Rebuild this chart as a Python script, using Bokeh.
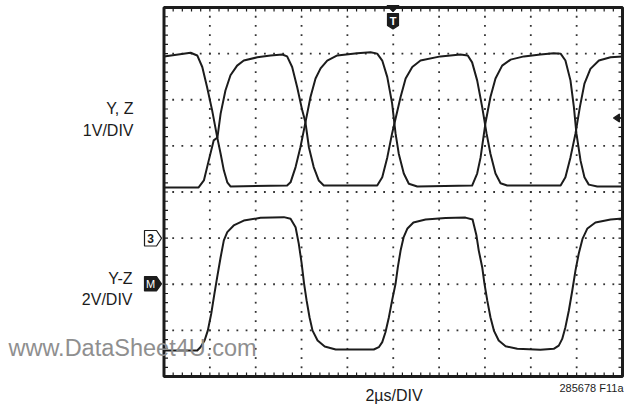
import numpy as np
from bokeh.plotting import figure
from bokeh.models import Range1d, Label
from bokeh.embed import file_html
from bokeh.resources import INLINE

# ---- captured waveforms (time in µs, level in volts) ----
# Channel Y, 1 V/div
time_y_us = [0.0, 1.16, 1.45, 1.67, 1.88, 2.10, 2.32, 2.47, 2.61, 2.76, 2.90,
             5.37, 5.52, 5.74, 5.95, 6.17, 6.39, 6.61, 6.83, 7.12, 7.56, 8.43,
             9.01, 9.30, 9.52, 9.74, 9.95, 10.10, 10.24, 10.46, 10.68, 11.05,
             13.44, 13.66, 13.81, 14.02, 14.24, 14.46, 14.75, 15.12, 15.70,
             16.42, 17.00, 17.30, 17.51, 17.73, 17.88, 17.99, 18.17, 18.34,
             18.53, 18.90, 20.0]
volts_y = [2.94, 3.02, 2.96, 2.71, 2.27, 1.77, 1.19, 0.83, 0.47, 0.21, 0.12,
           0.14, 0.21, 0.54, 0.97, 1.51, 2.06, 2.46, 2.68, 2.85, 2.96, 3.01,
           3.03, 3.00, 2.85, 2.49, 1.92, 1.27, 0.83, 0.40, 0.18, 0.12,
           0.14, 0.40, 0.75, 1.49, 2.06, 2.46, 2.74, 2.87, 2.94,
           2.98, 3.01, 3.00, 2.85, 2.42, 1.84, 1.27, 0.68, 0.32,
           0.16, 0.12, 0.12]

# Channel Z, 1 V/div
time_z_us = [0.0, 1.51, 1.74, 1.95, 2.17, 2.33, 2.47, 2.68, 2.90, 3.19, 3.48,
             4.07, 4.65, 5.16, 5.37, 5.59, 5.81, 6.03, 6.17, 6.32, 6.53, 6.75,
             6.97, 9.30, 9.52, 9.74, 9.95, 10.32, 10.54, 10.83, 11.19, 12.06,
             12.93, 13.25, 13.44, 13.66, 13.88, 14.07, 14.24, 14.46, 14.68,
             14.97, 17.30, 17.51, 17.73, 17.95, 18.14, 18.34, 18.60, 18.97,
             19.48, 20.0]
volts_z = [0.10, 0.10, 0.25, 0.68, 1.12, 1.18, 1.70, 2.20, 2.53, 2.74, 2.85,
           2.92, 2.96, 2.98, 2.94, 2.71, 2.27, 1.77, 1.51, 0.97, 0.54, 0.25,
           0.14, 0.14, 0.32, 0.75, 1.27, 2.06, 2.46, 2.71, 2.85, 2.94,
           2.98, 2.96, 2.81, 2.42, 1.84, 1.27, 0.83, 0.40, 0.19,
           0.14, 0.14, 0.32, 0.75, 1.27, 1.84, 2.35, 2.67, 2.85,
           2.92, 2.94]

# Math trace Y-Z, 2 V/div
time_diff_us = [0.0, 1.45, 1.59, 1.77, 1.91, 2.06, 2.20, 2.32, 2.47, 2.61, 2.76,
                3.04, 3.48, 4.21, 5.23, 5.52, 5.74, 5.88, 6.00, 6.11, 6.22,
                6.35, 6.48, 6.70, 7.01, 7.49, 9.15, 9.37, 9.52, 9.66, 9.81,
                9.95, 10.10, 10.20, 10.32, 10.45, 10.62, 10.88, 11.41, 12.28,
                13.15, 13.46, 13.63, 13.73, 13.88, 13.98, 14.10, 14.24, 14.39,
                14.60, 14.90, 15.41, 16.42, 17.00, 17.22, 17.37, 17.51, 17.66,
                17.81, 17.95, 18.09, 18.26, 18.47, 18.82, 19.48, 20.0]
volts_diff = [-2.87, -2.87, -2.73, -2.44, -2.01, -1.28, -0.41, 0.31, 1.17, 1.90,
              2.26, 2.55, 2.76, 2.88, 2.91, 2.84, 2.47, 1.75, 0.94, 0.03, -0.70,
              -1.44, -2.01, -2.44, -2.70, -2.83, -2.83, -2.73, -2.51, -2.08,
              -1.43, -0.70, 0.02, 0.74, 1.46, 2.03, 2.42, 2.68, 2.81, 2.87,
              2.89, 2.81, 2.11, 1.46, 0.74, 0.02, -0.70, -1.43, -2.01, -2.44,
              -2.69, -2.80, -2.84, -2.80, -2.66, -2.37, -1.86, -1.14, -0.27,
              0.60, 1.32, 1.98, 2.42, 2.68, 2.81, 2.85]

# ---- scope settings ----
US_PER_DIV = 2.0
YZ_VOLTS_PER_DIV = 1.0
DIFF_VOLTS_PER_DIV = 2.0
YZ_ZERO_DIV = 4.0      # screen division holding 0 V for Y and Z
DIFF_ZERO_DIV = 2.0    # screen division holding 0 V for Y-Z (M marker)
N_XDIV, N_YDIV = 10, 8

# ---- canvas geometry (pixels) ----
W, H = 624, 411
GX0, GX1 = 163.5, 622.0
GY_BOT, GY_TOP = 376.0, 7.0
PX_US = (GX1 - GX0) / (N_XDIV * US_PER_DIV)
PX_DIV = (GY_BOT - GY_TOP) / N_YDIV


def sx(px):
    return (px - GX0) / PX_US


def sy(py):
    return (GY_BOT - py) / PX_DIV


T_END = N_XDIV * US_PER_DIV
INK = "#1c1c1c"
FONT = "Liberation Sans"

p = figure(width=W, height=H, x_range=Range1d(sx(0), sx(W)),
           y_range=Range1d(sy(H), sy(0)), x_axis_type=None, y_axis_type=None,
           toolbar_location=None, output_backend="svg", min_border=0,
           outline_line_color=None, background_fill_color="white",
           border_fill_color="white")

# graticule: dotted division lines
minor_t = np.arange(1, N_XDIV * 5) * (US_PER_DIV / 5)
minor_d = np.arange(1, N_YDIV * 5) * 0.2
dot_x, dot_y = [], []
for k in range(1, N_XDIV):
    dot_x += [k * US_PER_DIV] * len(minor_d)
    dot_y += list(minor_d)
for k in range(1, N_YDIV):
    dot_x += list(minor_t)
    dot_y += [k] * len(minor_t)
p.scatter(dot_x, dot_y, marker="square", size=1.8, fill_color="#333333",
          line_color=None)

# tick marks along the inside of the graticule border
tl_x = 4 / PX_US
tl_y = 4 / PX_DIV
p.segment(x0=minor_t, y0=[N_YDIV] * len(minor_t), x1=minor_t,
          y1=[N_YDIV - tl_y] * len(minor_t), line_color=INK, line_width=1.2)
p.segment(x0=minor_t, y0=[0] * len(minor_t), x1=minor_t,
          y1=[tl_y] * len(minor_t), line_color=INK, line_width=1.2)
p.segment(x0=[0] * len(minor_d), y0=minor_d, x1=[tl_x] * len(minor_d),
          y1=minor_d, line_color=INK, line_width=1.2)
p.segment(x0=[T_END] * len(minor_d), y0=minor_d,
          x1=[T_END - tl_x] * len(minor_d), y1=minor_d, line_color=INK,
          line_width=1.2)

# border
p.quad(left=0, right=T_END, bottom=0, top=N_YDIV, fill_color=None,
       line_color=INK, line_width=3)

# traces
yz_y = [YZ_ZERO_DIV + v / YZ_VOLTS_PER_DIV for v in volts_y]
yz_z = [YZ_ZERO_DIV + v / YZ_VOLTS_PER_DIV for v in volts_z]
d_y = [DIFF_ZERO_DIV + v / DIFF_VOLTS_PER_DIV for v in volts_diff]
for xs, ys in ((time_y_us, yz_y), (time_z_us, yz_z), (time_diff_us, d_y)):
    p.line(xs, ys, line_color=INK, line_width=2, line_join="round")


def shape(points, fill, line=INK):
    p.patch([sx(a) for a, b in points], [sy(b) for a, b in points],
            fill_color=fill, line_color=line, line_width=1.2)


# trigger position marker (top)
shape([(386.5, 5), (398.5, 5), (392.5, 11)], INK)
shape([(387, 13), (398, 13), (398, 25), (392.5, 28.5), (387, 25)], INK)
p.add_layout(Label(x=sx(392.5), y=sy(20.5), text="T", text_align="center",
                   text_baseline="middle", text_font=FONT,
                   text_font_style="bold", text_font_size="11px",
                   text_color="white"))

# trigger level marker (right edge)
shape([(613, 117.5), (619, 113.5), (619, 121.5)], INK)
p.segment(x0=[sx(618)], y0=[sy(117.5)], x1=[sx(622)], y1=[sy(117.5)],
          line_color=INK, line_width=1.5)

# channel 3 reference marker
shape([(144, 230), (156, 230), (161, 237.7), (156, 245.5), (144, 245.5)],
      "white")
p.add_layout(Label(x=sx(150), y=sy(238), text="3", text_align="center",
                   text_baseline="middle", text_font=FONT,
                   text_font_style="bold", text_font_size="12px",
                   text_color=INK))

# math trace reference marker
shape([(144, 276), (156, 276), (161, 283.3), (156, 290.5), (144, 290.5)], INK)
p.add_layout(Label(x=sx(150), y=sy(283.5), text="M", text_align="center",
                   text_baseline="middle", text_font=FONT,
                   text_font_size="11px", text_color="white"))


def text(px, py, s, size, align="right", color=INK, style="normal"):
    p.add_layout(Label(x=sx(px), y=sy(py), text=s, text_align=align,
                       text_baseline="alphabetic", text_font=FONT,
                       text_font_size=size, text_color=color,
                       text_font_style=style))


text(133, 108, "Y, Z", "16px")
text(133, 130, "1V/DIV", "16px")
text(132, 278, "Y-Z", "16px")
text(132, 299, "2V/DIV", "16px")
text(393.5, 395, "2µs/DIV", "16px", align="center")
text(623, 387, "285678 F11a", "11px")
text(8, 347, "www.DataSheet4U.com", "23.5px", align="left", color="#8f8f8f")

open("out.html", "w").write(file_html(p, INLINE))
